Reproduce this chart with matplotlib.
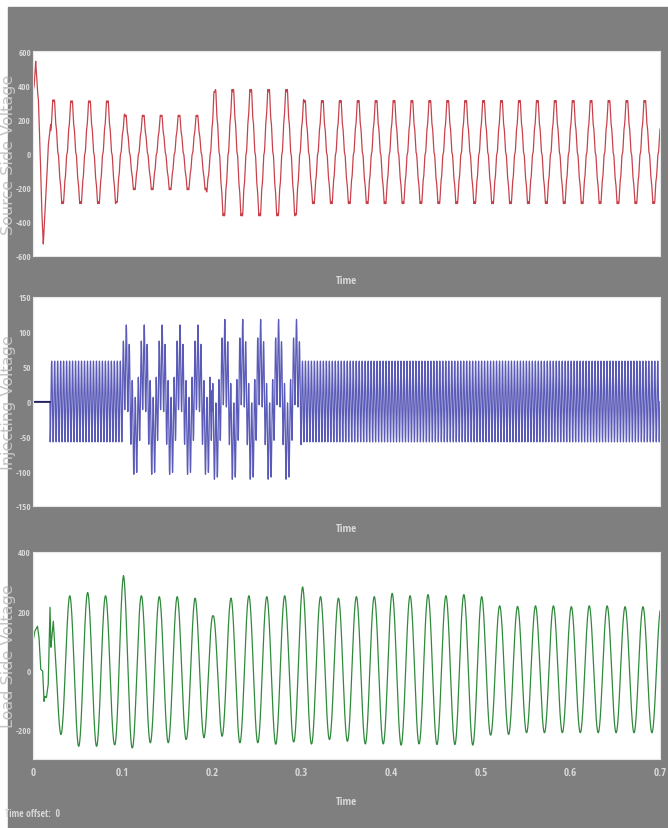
import numpy as np
import matplotlib.pyplot as plt
from matplotlib import font_manager
from matplotlib.patches import Rectangle

# scope time base
t_end = 0.7
f_grid = 50.0
x_ticks = [0, 0.1, 0.2, 0.3, 0.4, 0.5, 0.6, 0.7]

# source side voltage: crest / trough of every 50 Hz cycle (crests at 0.003 + k*0.02 s)
src_t0 = 0.003
src_peaks = [300, 307, 301, 301, 301,
             219, 219, 219, 219, 219,
             365, 365, 365, 365, 365] + [303] * 20
src_troughs = [-284, -284, -284, -284, -284,
               -205, -205, -205, -205, -205,
               -354, -354, -354, -354, -354] + [-284] * 20
# start-up transient read point by point
src_start_t = [0, 0.0013, 0.003, 0.005, 0.006, 0.008, 0.0097, 0.0115, 0.0134, 0.015, 0.017, 0.0197]
src_start_v = [360, 395, 540, 365, 320, 10, -325, -530, -345, -190, 45, 170]
src_yticks = [600, 400, 200, 0, -200, -400, -600]

# injecting voltage: segments, 50 Hz part and switching ripple
inj_edges = [0.0, 0.019, 0.1, 0.2, 0.3, 0.7]
inj_fund = [0, 0, 52, -60, 0]
inj_ripple = [0, 58, 58, 58, 58]
inj_ripple_hz = 300
inj_t0 = 0.004
inj_yticks = [150, 100, 50, 0, -50, -100, -150]

# load side voltage: crest / trough of every cycle (crests at 0.001 + k*0.02 s)
load_t0 = 0.001
load_peaks = [250, 166, 252, 263, 252, 320, 252, 249, 249, 244,
              184, 244, 252, 249, 252, 282, 249, 244, 249, 249,
              260, 252, 256, 252, 256, 249, 218, 216, 218, 218,
              215, 218, 218, 215, 215]
load_troughs = [-100, -217, -257, -257, -251, -262, -245, -245, -234, -228,
                -223, -245, -245, -250, -242, -249, -234, -240, -249, -249,
                -253, -249, -251, -251, -253, -219, -217, -211, -211, -211,
                -211, -211, -211, -211, -211]
load_start_t = [0, 0.002, 0.005, 0.0067, 0.0086, 0.0108, 0.0123, 0.0134, 0.015,
                0.017, 0.018, 0.019, 0.020, 0.0227, 0.026]
load_start_v = [98, 132, 149, 112, 3, -3, -105, -88, -92, -47, 88, 213, 78, 166, 0]
load_yticks = [400, 200, 0, -200]

t = np.linspace(0, t_end, 14001)


def cycle_wave(t, t0, peaks, troughs, shape):
    pk_t = t0 + np.arange(len(peaks)) / f_grid
    tr_t = pk_t + 0.5 / f_grid
    ext_t = np.column_stack([pk_t, tr_t]).ravel()
    ext_a = np.column_stack([np.abs(peaks), np.abs(troughs)]).ravel()
    theta = 2 * np.pi * f_grid * (t - t0)
    return np.interp(t, ext_t, ext_a) * shape(theta)


def distorted(theta):
    s = np.cos(theta) + 0.1 * np.cos(3 * theta) - 0.06 * np.cos(9 * theta)
    return s / 1.05


src = cycle_wave(t, src_t0, src_peaks, src_troughs, distorted)
m = t < src_start_t[-1]
src[m] = np.interp(t[m], src_start_t, src_start_v)

inj = np.zeros_like(t)
for i in range(len(inj_fund)):
    seg = (t >= inj_edges[i]) & (t < inj_edges[i + 1])
    inj[seg] = (inj_fund[i] * np.cos(2 * np.pi * f_grid * (t[seg] - inj_t0))
                + inj_ripple[i] * np.sin(2 * np.pi * inj_ripple_hz * t[seg]))

load = cycle_wave(t, load_t0, load_peaks, load_troughs, np.cos)
m = t < load_start_t[-1]
load[m] = np.interp(t[m], load_start_t, load_start_v)

# pick a narrow face if one is installed (scope uses condensed digits)
names = {f.name for f in font_manager.fontManager.ttflist}
narrow_fam = [n for n in ['Liberation Sans Narrow', 'DejaVu Sans Condensed', 'Open Sans Condensed',
                          'Roboto Condensed', 'Noto Sans Condensed', 'Arial Narrow'] if n in names]
if narrow_fam:
    narrow, tick_fs = narrow_fam[0], 6.5
else:
    narrow, tick_fs = 'DejaVu Sans', 5.2

W, H = 668, 829
fig = plt.figure(figsize=(W / 100, H / 100), dpi=100, facecolor='white')
fig.patches.append(Rectangle((8 / W, 0), 1, 1 - 8 / H, transform=fig.transFigure,
                             color='#7f7f7f', zorder=-10))

grey_txt = '#d8d8d8'
tfont = dict(family=narrow, weight='light', color=grey_txt)


def panel(top, bottom, y, color, ylim, yticks, label):
    ax = fig.add_axes([33 / W, 1 - bottom / H, 627 / W, (bottom - top) / H])
    ax.set_zorder(2)
    ax.set_facecolor('white')
    ax.plot(t, y, color=color, lw=0.9)
    ax.set_xlim(0, t_end)
    ax.set_ylim(*ylim)
    ax.set_yticks(yticks)
    ax.set_yticklabels([str(v) for v in yticks], fontsize=tick_fs, **tfont)
    ax.set_xticks(x_ticks)
    ax.tick_params(length=0, pad=1.5)
    for s in ax.spines.values():
        s.set_color('#e8e8e8')
        s.set_linewidth(0.8)
    fig.text(8.5 / W, 1 - (top + bottom) / 2 / H, label, rotation=90, ha='center', va='center',
             fontsize=11.5, color='#c4c4c4', zorder=3)
    return ax


ax1 = panel(52, 257, src, '#c8424c', (-600, 600), src_yticks, 'Source Side Voltage')
ax1.set_xticklabels([])
fig.text(346 / W, 1 - 282 / H, 'Time', ha='center', va='center', fontsize=8, **tfont)

ax2 = panel(298, 507, inj, '#5a5ab8', (-150, 150), inj_yticks, 'Injecting Voltage')
ax2.plot(t[t < inj_edges[1]], inj[t < inj_edges[1]], color='#1a1a50', lw=1.2)
ax2.set_xticklabels([])
fig.text(346 / W, 1 - 530 / H, 'Time', ha='center', va='center', fontsize=8, **tfont)

ax3 = panel(553, 760, load, '#2f8a3c', (-300, 400), load_yticks, 'Load Side Voltage')
ax3.set_xticklabels([f'{v:g}' for v in x_ticks], fontsize=8, **tfont)
ax3.tick_params(axis='x', pad=6)
fig.text(346 / W, 1 - 803 / H, 'Time', ha='center', va='center', fontsize=8, **tfont)
fig.text(5 / W, 1 - 815 / H, 'Time offset:  0', ha='left', va='center', fontsize=7, **tfont)

fig.savefig('out.png', dpi=100, facecolor=fig.get_facecolor())
